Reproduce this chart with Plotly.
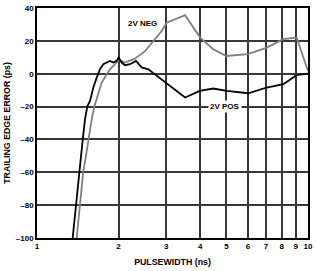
import plotly.graph_objects as go

pos_x = [1.354, 1.393, 1.425, 1.475, 1.503, 1.533, 1.569, 1.614, 1.661, 1.708, 1.757, 1.808,
         1.859, 1.912, 1.968, 2.0, 2.053, 2.112, 2.204, 2.319, 2.434, 2.575, 2.765, 3.01,
         3.52, 3.99, 4.47, 5.01, 6.02, 7.04, 8.11, 9.08, 10]
pos_y = [-100, -80, -60, -40, -28, -20, -16.6, -8.4, -2.4, 2.7, 5.8, 6.8,
         7.8, 6.8, 7.8, 9.9, 6.8, 5.2, 5.8, 7.8, 3.8, 2.7, -1.3, -6,
         -14.5, -10.5, -9, -10.5, -11.9, -8.4, -6.4, -0.9, 0]

neg_x = [1.401, 1.441, 1.48, 1.516, 1.547, 1.592, 1.628, 1.637, 1.684, 1.733, 1.808, 1.859,
         1.94, 2.007, 2.112, 2.299, 2.503, 2.687, 2.885, 3.01, 3.52, 4.0, 4.47, 5.0, 6.0,
         7.04, 8.1, 9.08, 10]
neg_y = [-100, -80, -60, -50, -40, -27.7, -20, -18.6, -11.4, -5.4, -0.3, 2.7,
         5.8, 8.4, 6.8, 9.2, 13.7, 19.8, 26, 31, 35.6, 22, 14.9, 10.8, 11.9,
         15.9, 21, 22, 1.7]

x_ticks = [1, 2, 3, 4, 5, 6, 7, 8, 9, 10]
y_ticks = [-100, -80, -60, -40, -20, 0, 20, 40]
y_ticktext = ["–100", "–80", "–60", "–40", "–20", "0", "20", "40"]

FAM = "Liberation Sans, Arial, sans-serif"
font = dict(family=FAM, size=8, color="black")
tfont = dict(family=FAM, size=8.8, color="black")
GRID = "rgb(55,55,55)"

fig = go.Figure()
fig.add_trace(go.Scatter(x=neg_x, y=neg_y, mode="lines",
                         line=dict(color="#7f7f7f", width=1.8), showlegend=False))
fig.add_trace(go.Scatter(x=pos_x, y=pos_y, mode="lines",
                         line=dict(color="black", width=1.8), showlegend=False))

fig.add_annotation(x=0.391, y=30.5, xref="x", yref="y", text="<b>2V NEG</b>", showarrow=False,
                   font=font, bgcolor="white")
fig.add_annotation(x=0.692, y=-20, xref="x", yref="y", text="<b>2V POS</b>", showarrow=False,
                   font=font, bgcolor="white", borderpad=1)

fig.update_layout(
    template="none",
    width=317, height=271,
    margin=dict(l=37, r=9, t=8, b=33),
    paper_bgcolor="white", plot_bgcolor="white",
    font=font,
)
fig.update_xaxes(type="log", range=[0, 1], tickmode="array", tickvals=x_ticks,
                 ticktext=["<b>%d</b>" % v for v in x_ticks],
                 showgrid=True, gridcolor=GRID, gridwidth=1.5,
                 showline=True, mirror=True, linecolor="black", linewidth=1.5,
                 ticks="", tickfont=font,
                 title=dict(text="<b>PULSEWIDTH (ns)</b>", font=tfont, standoff=8))
fig.update_yaxes(range=[-100, 40], tickmode="array", tickvals=y_ticks,
                 ticktext=["<b>%s</b>" % t for t in y_ticktext],
                 showgrid=True, gridcolor=GRID, gridwidth=1.5, zeroline=False,
                 showline=True, mirror=True, linecolor="black", linewidth=1.5,
                 ticks="", tickfont=font,
                 title=dict(text="<b>TRAILING EDGE ERROR (ps)</b>", font=tfont, standoff=4))

fig.write_html("out.html")
